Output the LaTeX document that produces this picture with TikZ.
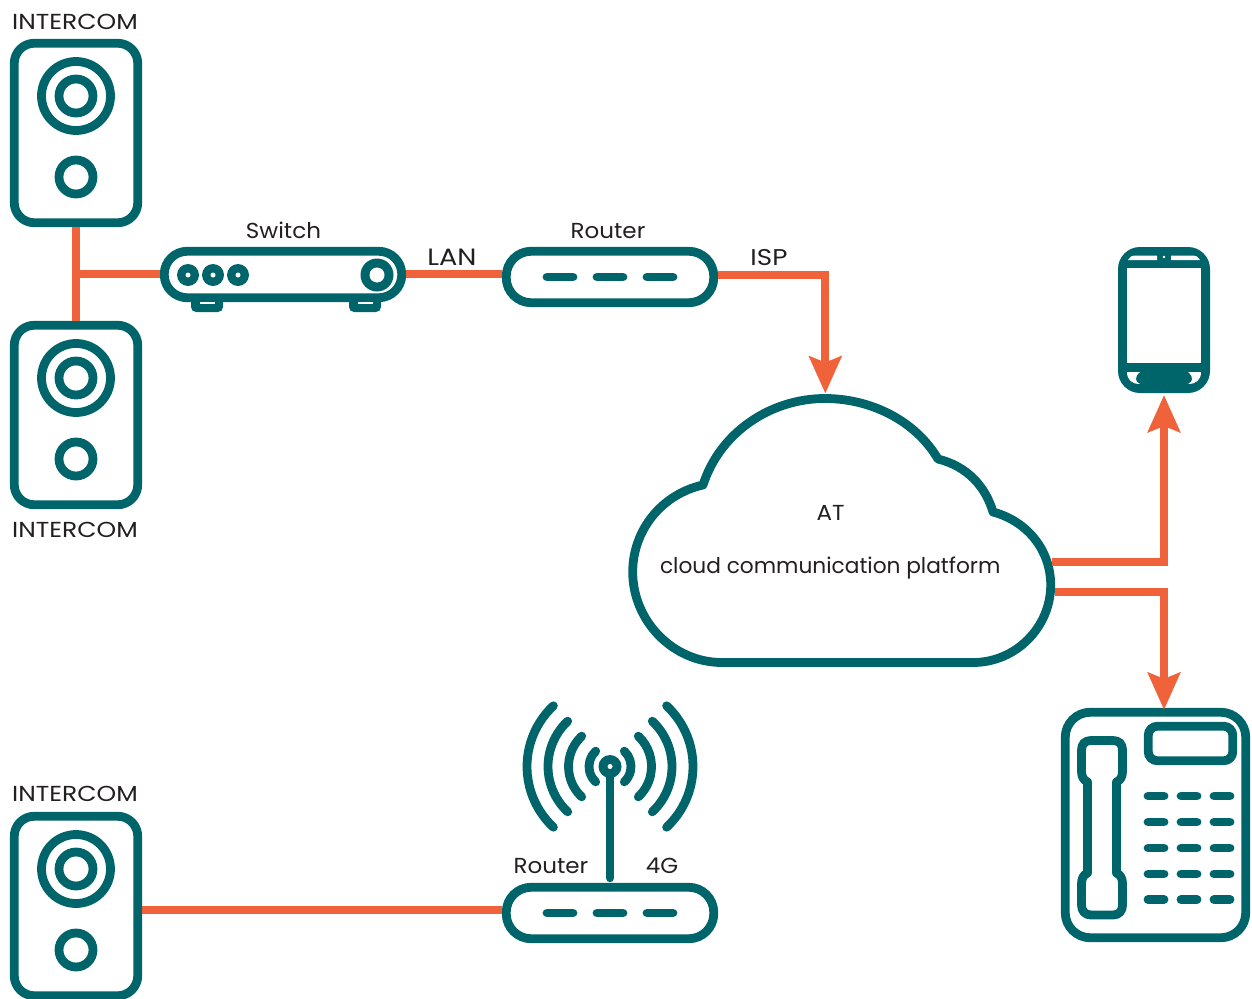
\documentclass[tikz,border=0pt]{standalone}
\usepackage{fontspec}
\setmainfont{Poppins}
\newfontfamily\widerfont[FakeStretch=1.06]{Poppins}
\newfontfamily\capsfont[FakeStretch=1.15]{Poppins}
\usetikzlibrary{arrows.meta,calc}
\definecolor{tealc}{HTML}{00646B}
\definecolor{orangec}{HTML}{F0623A}
\definecolor{inkc}{HTML}{231F20}
\tikzset{
  x=1pt,y=-1pt,
  device/.style={draw=tealc,line width=8.8pt,fill=white,rectangle,inner sep=0pt},
  intercombody/.style={device,minimum width=123.5pt,minimum height=179.5pt,rounded corners=20pt},
  switchbody/.style={device,minimum width=237.5pt,minimum height=46.5pt,rounded corners=23pt},
  routerbody/.style={device,minimum width=207.5pt,minimum height=51.5pt,rounded corners=25pt},
  ring/.style={draw=tealc,line width=8.8pt,fill=none},
  dashline/.style={draw=tealc,line width=8.8pt,line cap=round},
  link/.style={draw=orangec,line width=8pt},
  arrowlink/.style={link,-{Stealth[length=37pt,width=32pt,inset=6pt]}},
  lbl/.style={text=inkc,font=\fontsize{21.7}{26}\selectfont,inner sep=0pt,anchor=base},
  lblw/.style={lbl,font=\widerfont\fontsize{21.7}{26}\selectfont},
  lblc/.style={lbl,font=\capsfont\fontsize{21.7}{26}\selectfont},
  lbll/.style={lbl,font=\capsfont\fontsize{23.6}{26}\selectfont},
  wave/.style={draw=tealc,line width=8.8pt,line cap=round},
}
\newcommand{\intercomface}[1]{%
  \draw[ring] ($(#1)+(0,-37)$) circle[radius=34.5];
  \draw[ring] ($(#1)+(0,-37)$) circle[radius=17];
  \draw[ring] ($(#1)+(0,44)$) circle[radius=17];
}
\newcommand{\routerdashes}[1]{%
  \draw[dashline] ($(#1)+(-63,0)$) -- ++(26,0);
  \draw[dashline] ($(#1)+(-13,0)$) -- ++(26,0);
  \draw[dashline] ($(#1)+(37,0)$) -- ++(26,0);
}
\begin{document}
\begin{tikzpicture}
\useasboundingbox (0,0) rectangle (1252,998);
\clip (0,0) rectangle (1252,998);
% intercoms
\node[intercombody] (ic1) at (76,133) {};
\intercomface{ic1}
\node[intercombody] (ic2) at (76,415) {};
\intercomface{ic2}
\node[intercombody] (ic3) at (76,906) {};
\intercomface{ic3}
\node[lblc] (ic1l) at (75,29.5) {INTERCOM};
\node[lblc] (ic2l) at (75,537.5) {INTERCOM};
\node[lblc] (ic3l) at (75,801.5) {INTERCOM};
% switch
\fill[tealc,rounded corners=5pt] (191,296) rectangle (223,312);
\fill[tealc,rounded corners=5pt] (349,296) rectangle (381,312);
\node[switchbody] (sw) at (283,274.5) {};
\fill[white] (200,302) rectangle (215,304);
\fill[white] (358,302) rectangle (373,304);
\foreach \xx in {188,213,238}{
  \fill[tealc] (\xx,275) circle[radius=11];
  \fill[white] (\xx,275) circle[radius=2.5];
}
\fill[tealc] (377,275) circle[radius=16.5];
\fill[white] (377,275) circle[radius=7.5];
\node[lblw] (swl) at (283.5,238.5) {Switch};
% router 1
\node[routerbody] (r1) at (610,277) {};
\routerdashes{r1}
\node[lblw] (r1l) at (608,238.5) {Router};
% router 2
\node[routerbody] (r2) at (610,913) {};
\routerdashes{r2}
\node[lblw] (r2l) at (551,873.5) {Router};
\node[lblw] (r2g) at (662,873.5) {4G};
% cloud
\coordinate (cloudtop) at (825.3,393.5);
\coordinate (cloudr1) at (1052,562);
\coordinate (cloudr2) at (1055,592);
\draw[draw=tealc,line width=8.8pt,fill=white,line join=round]
  (722,662.5) -- (973,662.5)
  .. controls (1016,662.5) and (1050.7,627) .. (1050.7,585)
  .. controls (1050.7,550) and (1027,521) .. (993,512)
  .. controls (985,485) and (966,466) .. (938,459)
  .. controls (915,420) and (870,398.5) .. (825,398.5)
  .. controls (770,398.5) and (719.6,433) .. (703,485)
  .. controls (662,494) and (632.7,530) .. (632.7,572)
  .. controls (632.7,621) and (673,662.5) .. (722,662.5) -- cycle;
\node[lblw] (atl) at (830.5,520) {AT};
\node[lbl] (ccp) at (830.2,573.4) {cloud communication platform};
% antenna
\coordinate (ant) at (610,766.5);
\draw[wave] (ant) -- ($(r2.north)+(0,-5)$);
\fill[tealc] (ant) circle[radius=11.5];
\fill[white] (ant) circle[radius=2.5];
\foreach \rr in {21,41.5,62,83}{
  \draw[wave] ($(ant)+({-\rr*cos(47)},{-\rr*sin(47)})$) arc[start angle=227,end angle=133,radius=\rr];
  \draw[wave] ($(ant)+({\rr*cos(47)},{-\rr*sin(47)})$) arc[start angle=-47,end angle=47,radius=\rr];
}
% mobile
\node[rectangle,fill=tealc,minimum width=92pt,minimum height=146pt,rounded corners=22pt,inner sep=0pt,outer sep=0pt] (mob) at (1164,320) {};
\fill[white] (1127,268) rectangle (1201,363);
\fill[white] (1128,260) .. controls (1129,257) and (1132,255.5) .. (1136,255.5) -- (1157,255.5) -- (1157,260) -- cycle;
\fill[white] (1200,260) .. controls (1199,257) and (1196,255.5) .. (1192,255.5) -- (1171,255.5) -- (1171,260) -- cycle;
\fill[white] (1164,257) circle[radius=1.3];
\fill[white] (1127,372) -- (1140,372) .. controls (1134,377) and (1135,382) .. (1140,384) .. controls (1132,384) and (1127,380) .. (1127,372) -- cycle;
\fill[white] (1201,372) -- (1188,372) .. controls (1194,377) and (1193,382) .. (1188,384) .. controls (1196,384) and (1201,380) .. (1201,372) -- cycle;
% desk phone
\node[device,minimum width=180.5pt,minimum height=225.5pt,rounded corners=25pt] (desk) at (1155.5,825) {};
\node[device,minimum width=84.5pt,minimum height=34.5pt,rounded corners=9pt] (disp) at (1190.5,743.5) {};
\foreach \yy in {796,822,848,874,899.5}{
  \foreach \xx in {1148,1181,1214}{
    \draw[draw=tealc,line width=8.8pt,line cap=round] (\xx,\yy) -- ++(16,0);
  }
}
\draw[draw=tealc,line width=8.8pt,line join=round]
  (1087.5,782) -- (1087.5,860) -- (1087.5,873)
  .. controls (1083,875) and (1081.5,879) .. (1081.5,884)
  -- (1081.5,905) .. controls (1081.5,911) and (1085,915) .. (1091,915)
  -- (1113,915) .. controls (1119,915) and (1122.5,911) .. (1122.5,905)
  -- (1122.5,884) .. controls (1122.5,879) and (1121,875) .. (1116.5,873)
  -- (1116.5,782) .. controls (1121,780) and (1122.5,776) .. (1122.5,771)
  -- (1122.5,750) .. controls (1122.5,744) and (1119,740.5) .. (1113,740.5)
  -- (1091,740.5) .. controls (1085,740.5) and (1081.5,744) .. (1081.5,750)
  -- (1081.5,771) .. controls (1081.5,776) and (1083,780) .. (1087.5,782) -- cycle;
% connectors
\coordinate (junc) at (76,274);
\draw[link] (ic1.south) -- (ic2.north);
\draw[link] (junc) -- (junc -| sw.west);
\draw[link] (sw.east |- junc) -- (junc -| r1.west);
\draw[arrowlink] (r1.east |- 0,275) -| (cloudtop);
\draw[arrowlink] (cloudr1) -| ($(mob.south)+(0,2)$);
\draw[arrowlink] (cloudr2) -| ($(desk.north)+(8.5,2)$);
\draw[link] (ic3.east |- 0,910) -- (r2.west |- 0,910);
% labels on links
\node[lbll] (lan) at (452,265) {LAN};
\node[lblw,font=\capsfont\fontsize{22.8}{26}\selectfont] (isp) at (769,265) {ISP};
\end{tikzpicture}
\end{document}
